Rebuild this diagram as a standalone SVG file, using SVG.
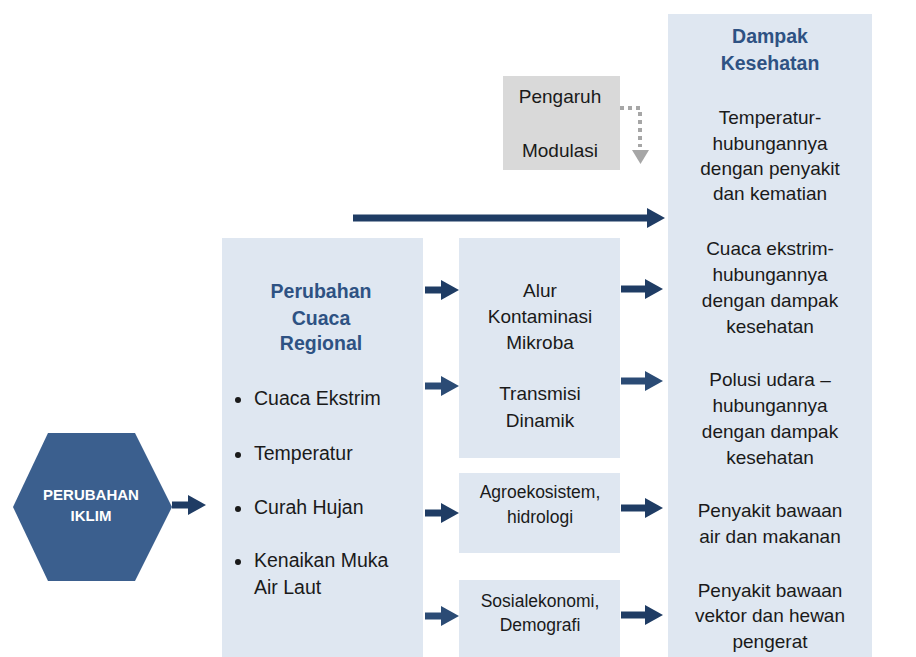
<svg xmlns="http://www.w3.org/2000/svg" width="916" height="657" viewBox="0 0 916 657">
<defs>
<marker id="ah" markerUnits="userSpaceOnUse" markerWidth="18" markerHeight="20" refX="0" refY="10" orient="auto" viewBox="0 0 18 20">
<path d="M0,0 L18,10 L0,20 Z" fill="#1f3c64"/>
</marker>
<marker id="ah2" markerUnits="userSpaceOnUse" markerWidth="18" markerHeight="20" refX="0" refY="10" orient="auto" viewBox="0 0 18 20">
<path d="M0,0 L18,10 L0,20 Z" fill="#2b4b75"/>
</marker>
</defs>
<style>
.box{fill:#dfe7f1}
.gbox{fill:#d9d9d9}
.t{font-family:"Liberation Sans",Arial,sans-serif;font-size:19px;fill:#1a1a1a;text-anchor:middle}
.tl{font-family:"Liberation Sans",Arial,sans-serif;font-size:19.5px;fill:#1a1a1a}
.ts{font-family:"Liberation Sans",Arial,sans-serif;font-size:17.5px;fill:#1a1a1a;text-anchor:middle}
.h{font-family:"Liberation Sans",Arial,sans-serif;font-size:19.5px;font-weight:bold;fill:#2e5283;text-anchor:middle}
.a{stroke:#1f3c64;stroke-width:7;fill:none;marker-end:url(#ah)}
.a2{stroke:#2b4b75;stroke-width:7;fill:none;marker-end:url(#ah2)}
</style>
<rect width="916" height="657" fill="#ffffff"/>

<g id="dampak">
<rect class="box" x="668" y="14" width="204" height="643"/>
<text class="h" x="770" y="43">Dampak</text>
<text class="h" x="770" y="70">Kesehatan</text>
<text class="t" x="770" y="124">Temperatur-</text>
<text class="t" x="770" y="150">hubungannya</text>
<text class="t" x="770" y="175">dengan penyakit</text>
<text class="t" x="770" y="200">dan kematian</text>
<text class="t" x="770" y="255">Cuaca ekstrim-</text>
<text class="t" x="770" y="281">hubungannya</text>
<text class="t" x="770" y="307">dengan dampak</text>
<text class="t" x="770" y="333">kesehatan</text>
<text class="t" x="770" y="386">Polusi udara –</text>
<text class="t" x="770" y="412">hubungannya</text>
<text class="t" x="770" y="438">dengan dampak</text>
<text class="t" x="770" y="464">kesehatan</text>
<text class="t" x="770" y="517">Penyakit bawaan</text>
<text class="t" x="770" y="543">air dan makanan</text>
<text class="t" x="770" y="597">Penyakit bawaan</text>
<text class="t" x="770" y="622">vektor dan hewan</text>
<text class="t" x="770" y="648">pengerat</text>
</g>

<g id="pengaruh">
<rect class="gbox" x="503" y="76" width="117" height="94"/>
<text class="t" x="560" y="103">Pengaruh</text>
<text class="t" x="560" y="157">Modulasi</text>
</g>

<g id="cuaca-regional">
<rect class="box" x="222" y="238" width="201" height="419"/>
<text class="h" x="321" y="298">Perubahan</text>
<text class="h" x="321" y="325">Cuaca</text>
<text class="h" x="321" y="350">Regional</text>
<circle cx="238" cy="400" r="3" fill="#1a1a1a"/>
<text class="tl" x="254" y="405">Cuaca Ekstrim</text>
<circle cx="238" cy="455" r="3" fill="#1a1a1a"/>
<text class="tl" x="254" y="460">Temperatur</text>
<circle cx="238" cy="509" r="3" fill="#1a1a1a"/>
<text class="tl" x="254" y="514">Curah Hujan</text>
<circle cx="238" cy="562" r="3" fill="#1a1a1a"/>
<text class="tl" x="254" y="567">Kenaikan Muka</text>
<text class="tl" x="254" y="594">Air Laut</text>
</g>

<g id="alur">
<rect class="box" x="459" y="238" width="161" height="220"/>
<text class="t" x="540" y="297">Alur</text>
<text class="t" x="540" y="323">Kontaminasi</text>
<text class="t" x="540" y="349">Mikroba</text>
<text class="t" x="540" y="400">Transmisi</text>
<text class="t" x="540" y="427">Dinamik</text>
</g>

<g id="agro">
<rect class="box" x="459" y="473" width="161" height="80"/>
<text class="ts" x="540" y="498">Agroekosistem,</text>
<text class="ts" x="540" y="523">hidrologi</text>
</g>

<g id="sosial">
<rect class="box" x="459" y="580" width="161" height="77"/>
<text class="ts" x="540" y="607">Sosialekonomi,</text>
<text class="ts" x="540" y="631">Demografi</text>
</g>

<g id="iklim">
<polygon points="13,507 48,433 135,433 172,507 135,581 48,581" fill="#3b5f8e"/>
<text x="91" y="500" font-family="'Liberation Sans',Arial,sans-serif" font-size="15" font-weight="bold" fill="#ffffff" text-anchor="middle">PERUBAHAN</text>
<text x="91" y="521" font-family="'Liberation Sans',Arial,sans-serif" font-size="15" font-weight="bold" fill="#ffffff" text-anchor="middle">IKLIM</text>
</g>

<g id="connectors">
<line class="a" x1="172" y1="505" x2="188" y2="505"/>
<line class="a" x1="353" y1="218" x2="647" y2="218"/>
<line class="a" x1="425" y1="290" x2="441" y2="290"/>
<line class="a2" x1="425" y1="386" x2="441" y2="386"/>
<line class="a" x1="425" y1="513" x2="441" y2="513"/>
<line class="a2" x1="425" y1="616" x2="441" y2="616"/>
<line class="a" x1="621" y1="289" x2="645" y2="289"/>
<line class="a2" x1="621" y1="381" x2="645" y2="381"/>
<line class="a" x1="621" y1="508" x2="645" y2="508"/>
<line class="a" x1="621" y1="615" x2="645" y2="615"/>
<path d="M620,108 H640 V147" fill="none" stroke="#a6a6a6" stroke-width="4" stroke-dasharray="4 4"/>
<polygon points="632,150 649,150 640.5,164" fill="#a6a6a6"/>
</g>
</svg>
